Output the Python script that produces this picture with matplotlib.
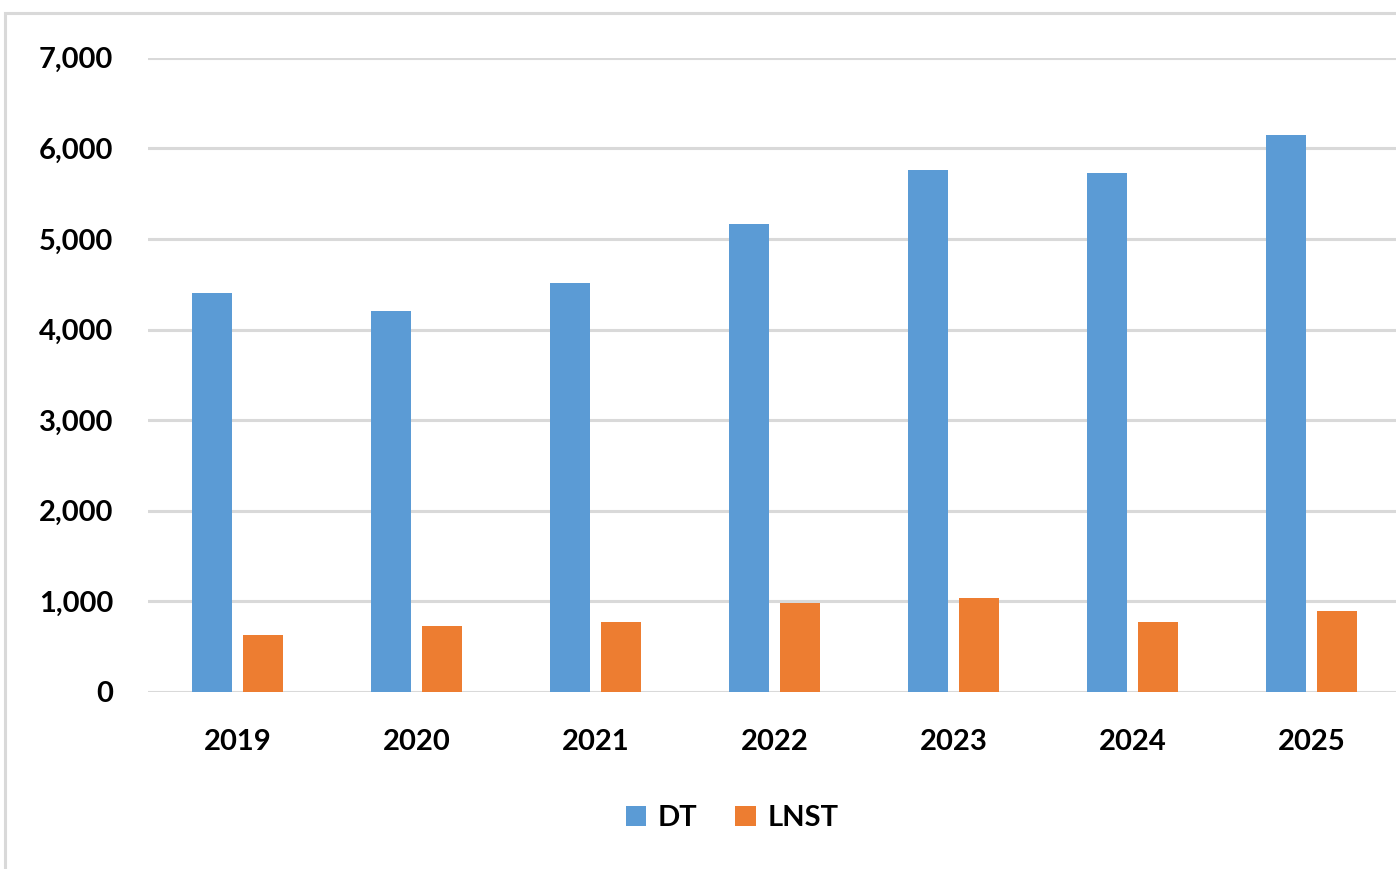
import numpy as np
import matplotlib.pyplot as plt
from matplotlib.patches import Rectangle
from matplotlib.ticker import FuncFormatter

years = ['2019', '2020', '2021', '2022', '2023', '2024', '2025']
dt = [4400, 4200, 4510, 5170, 5760, 5725, 6150]
lnst = [630, 730, 770, 985, 1040, 770, 895]

plt.rcParams['font.family'] = ['Lato', 'DejaVu Sans']
plt.rcParams['font.weight'] = 'bold'

fig = plt.figure(figsize=(13.96, 8.69), dpi=100)
ax = fig.add_axes([148/1396, 1-692/869, 1253/1396, (692-57.7)/869])

# outer frame of the chart
fig.patches.append(Rectangle((5/1396, -0.1), 1.2, 1-13/869+0.1, transform=fig.transFigure,
                             fill=False, edgecolor='#d9d9d9', linewidth=2.2))

x = np.arange(len(years))
w = 0.225
ax.bar(x - 0.1425, dt, w, color='#5b9bd5', label='DT', zorder=3)
ax.bar(x + 0.1425, lnst, w, color='#ed7d31', label='LNST', zorder=3)

ax.set_xlim(-0.5, len(years) - 0.5)
ax.set_ylim(0, 7000)
ax.set_yticks(range(0, 7001, 1000))
ax.yaxis.set_major_formatter(FuncFormatter(lambda v, p: f'{int(v):,}'))
ax.set_xticks(x)
ax.set_xticklabels(years)
ax.grid(axis='y', color='#d9d9d9', linewidth=2.2, zorder=0)
ax.set_axisbelow(True)
for s in ax.spines.values():
    s.set_visible(False)
ax.tick_params(axis='both', length=0, labelsize=21, colors='black')
ax.tick_params(axis='y', pad=25)
ax.tick_params(axis='x', pad=27)
for t in ax.get_xticklabels() + ax.get_yticklabels():
    t.set_fontweight('bold')

fig.legend(loc='center', bbox_to_anchor=(732/1396, 1-818/869), ncol=2, frameon=False,
           handlelength=0.7, handleheight=0.7, handletextpad=0.4, columnspacing=1.3,
           prop={'weight': 'bold', 'size': 21})

plt.savefig('out.png', dpi=100)
